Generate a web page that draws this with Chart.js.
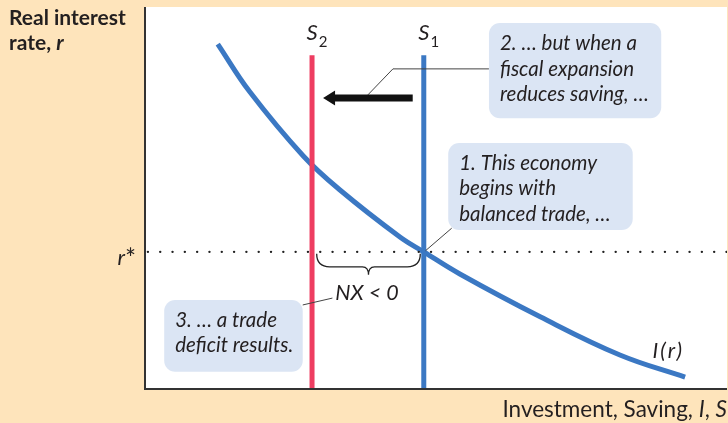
<!DOCTYPE html>
<html>
<head>
<meta charset="utf-8">
<script src="https://cdn.jsdelivr.net/npm/chart.js@4"></script>
<style>
  html, body { margin: 0; padding: 0; background: #fee4bb; }
  #wrap { width: 728px; height: 423px; position: relative; }
</style>
</head>
<body>
<div id="wrap"><canvas id="chart" width="728" height="423"></canvas></div>
<script>
// Data (0-10 units on both axes)
const invX = [1.25, 1.80, 2.72, 3.35, 4.38, 4.79, 5.41, 6.79, 8.16, 9.28];
const invY = [9.03, 7.78, 6.10, 5.21, 3.98, 3.59, 3.01, 1.89, 0.89, 0.31];
const s1 = 4.79;
const s2 = 2.87;
const sTop = 8.74;
const rStar = 3.59;

// Notes drawn on top
const notes = [
  { x1: 5.91, x2: 8.87, y1: 9.58, y2: 7.09, lines: ['2. \u2026 but when a', 'fiscal expansion', 'reduces saving, \u2026'] },
  { x1: 5.21, x2: 8.38, y1: 6.44, y2: 4.16, lines: ['1. This economy', 'begins with', 'balanced trade, \u2026'] },
  { x1: 0.33, x2: 2.71, y1: 2.33, y2: 0.45, lines: ['3. \u2026 a trade', 'deficit results.'] }
];

const BLUE = '#3b78c3';
const RED = '#ee3d61';
const INK = '#231f20';
const ITAL = 'italic 20.5px Lato';

function pts(xs, ys) { return xs.map((x, i) => ({ x: x, y: ys[i] })); }

const bgPlugin = {
  id: 'bg',
  beforeDraw(chart) {
    const { ctx, chartArea: a } = chart;
    ctx.save();
    ctx.fillStyle = '#fee4bb';
    ctx.fillRect(0, 0, chart.width, chart.height);
    ctx.fillStyle = '#ffffff';
    ctx.fillRect(a.left, a.top, a.right - a.left, a.bottom - a.top);
    ctx.restore();
  }
};

function roundRect(ctx, x, y, w, h, r) {
  ctx.beginPath();
  ctx.moveTo(x + r, y);
  ctx.arcTo(x + w, y, x + w, y + h, r);
  ctx.arcTo(x + w, y + h, x, y + h, r);
  ctx.arcTo(x, y + h, x, y, r);
  ctx.arcTo(x, y, x + w, y, r);
  ctx.closePath();
}

const notesPlugin = {
  id: 'notes',
  afterDatasetsDraw(chart) {
    const { ctx, chartArea: a } = chart;
    const X = v => chart.scales.x.getPixelForValue(v);
    const Y = v => chart.scales.y.getPixelForValue(v);
    ctx.save();

    // axes
    ctx.strokeStyle = '#333';
    ctx.lineWidth = 2;
    ctx.beginPath();
    ctx.moveTo(a.left, a.top);
    ctx.lineTo(a.left, a.bottom);
    ctx.lineTo(a.right, a.bottom);
    ctx.stroke();

    // thin leader lines
    ctx.strokeStyle = '#444';
    ctx.lineWidth = 1;
    ctx.beginPath();
    ctx.moveTo(X(3.83), Y(7.70)); ctx.lineTo(X(4.26), Y(8.38)); ctx.lineTo(X(5.91), Y(8.38));
    ctx.moveTo(X(5.27), Y(4.21)); ctx.lineTo(X(4.82), Y(3.62));
    ctx.moveTo(X(2.71), Y(2.20)); ctx.lineTo(X(3.22), Y(2.38));
    ctx.stroke();

    // shift arrow
    const ay = Y(7.62);
    const ax1 = X(4.60), ax2 = X(3.06);
    ctx.strokeStyle = '#111';
    ctx.fillStyle = '#111';
    ctx.lineWidth = 7;
    ctx.beginPath();
    ctx.moveTo(ax1, ay); ctx.lineTo(ax2 + 8, ay);
    ctx.stroke();
    ctx.beginPath();
    ctx.moveTo(ax2, ay); ctx.lineTo(ax2 + 12, ay - 7.5); ctx.lineTo(ax2 + 12, ay + 7.5);
    ctx.closePath();
    ctx.fill();

    // brace
    const bx1 = X(2.95), bx2 = X(4.73), by = Y(rStar) + 2;
    const bm = (bx1 + bx2) / 2, q = 13, h = 21;
    ctx.strokeStyle = '#222';
    ctx.lineWidth = 1.3;
    ctx.beginPath();
    ctx.moveTo(bx1, by);
    ctx.quadraticCurveTo(bx1, by + q, bx1 + q, by + q);
    ctx.lineTo(bm - 6, by + q);
    ctx.quadraticCurveTo(bm, by + q, bm, by + h);
    ctx.quadraticCurveTo(bm, by + q, bm + 6, by + q);
    ctx.lineTo(bx2 - q, by + q);
    ctx.quadraticCurveTo(bx2, by + q, bx2, by);
    ctx.stroke();

    // note boxes
    notes.forEach(n => {
      const x = X(n.x1), y = Y(n.y1), w = X(n.x2) - x, hh = Y(n.y2) - y;
      ctx.fillStyle = '#dbe5f4';
      roundRect(ctx, x, y, w, hh, 11);
      ctx.fill();
      ctx.fillStyle = INK;
      ctx.font = ITAL;
      ctx.textBaseline = 'alphabetic';
      ctx.textAlign = 'left';
      n.lines.forEach((t, i) => ctx.fillText(t, x + 11, y + 27 + i * 25.5));
    });

    // labels
    ctx.fillStyle = INK;
    ctx.font = 'italic 21.5px Lato';
    ctx.fillText('NX < 0', X(3.27), Y(2.33));
    ctx.letterSpacing = '2px';
    ctx.fillText('I(r)', X(8.72), Y(0.81));
    ctx.letterSpacing = '0px';
    ctx.textAlign = 'right';
    ctx.font = 'italic 22px Lato';
    ctx.fillText('r', a.left - 20, Y(rStar) + 13);
    ctx.font = '26px Lato';
    ctx.fillText('*', a.left - 9, Y(rStar) + 16);
    ctx.textAlign = 'center';
    ['S', 'S'].forEach((s, i) => {
      const cx = X(i === 0 ? s2 : s1);
      ctx.font = 'italic 22px Lato';
      ctx.fillText(s, cx, Y(sTop) - 15);
      ctx.font = '15px Lato';
      ctx.fillText(i === 0 ? '2' : '1', cx + 11, Y(sTop) - 8);
    });

    // axis titles
    ctx.textAlign = 'left';
    ctx.font = 'bold 21px Lato';
    ctx.fillText('Real interest', 9, 25);
    ctx.fillText('rate, ', 9, 50);
    const rw = ctx.measureText('rate, ').width;
    ctx.font = 'bold italic 21px Lato';
    ctx.fillText('r', 9 + rw, 50);

    ctx.textAlign = 'right';
    const parts = [['Investment, Saving, ', false], ['I', true], [', ', false], ['S', true]];
    let xr = 727;
    for (let i = parts.length - 1; i >= 0; i--) {
      ctx.font = (parts[i][1] ? 'italic ' : '') + '22.5px Lato';
      ctx.fillText(parts[i][0], xr, 417);
      xr -= ctx.measureText(parts[i][0]).width;
    }
    ctx.restore();
  }
};

new Chart(document.getElementById('chart'), {
  type: 'scatter',
  data: {
    datasets: [
      { data: [{ x: 0.05, y: rStar }, { x: 10, y: rStar }], showLine: true, borderColor: '#222',
        borderWidth: 2.4, borderDash: [0.01, 12.3], borderCapStyle: 'round', pointRadius: 0 },
      { data: [{ x: s2, y: 0 }, { x: s2, y: sTop }], showLine: true, borderColor: RED, borderWidth: 5, pointRadius: 0 },
      { data: [{ x: s1, y: 0 }, { x: s1, y: sTop }], showLine: true, borderColor: BLUE, borderWidth: 5, pointRadius: 0 },
      { data: pts(invX, invY), showLine: true, borderColor: BLUE, borderWidth: 5, pointRadius: 0,
        tension: 0.4 }
    ]
  },
  options: {
    responsive: false,
    animation: false,
    layout: { padding: { left: 145, top: 7, right: 1, bottom: 34 } },
    plugins: { legend: { display: false }, tooltip: { enabled: false } },
    scales: {
      x: { type: 'linear', min: 0, max: 10, display: false },
      y: { type: 'linear', min: 0, max: 10, display: false }
    }
  },
  plugins: [bgPlugin, notesPlugin]
});
</script>
</body>
</html>
